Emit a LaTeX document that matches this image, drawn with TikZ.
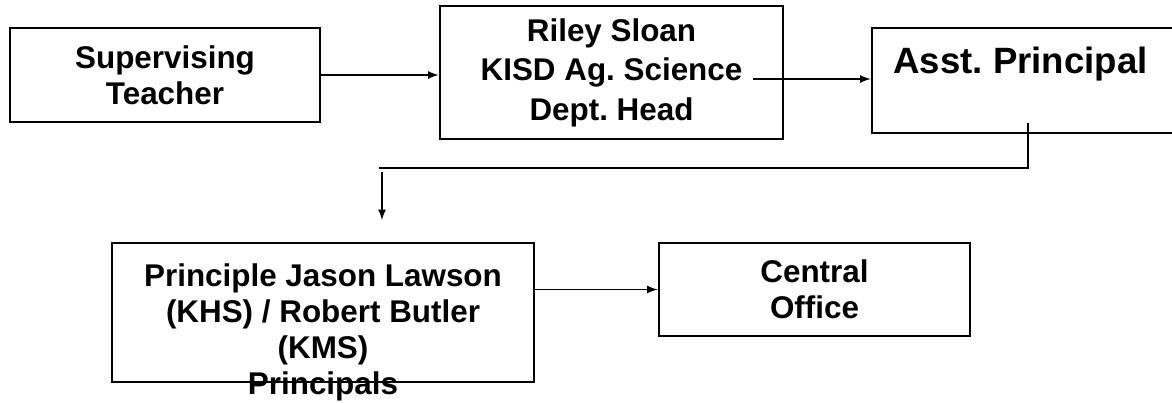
\documentclass[tikz,border=0pt]{standalone}
\usepackage{fontspec}
\setmainfont{Liberation Sans}
\frenchspacing
\tikzset{>=latex}
\tikzset{
  box/.style={draw, line width=1.4pt, align=center, font=\bfseries\fontsize{15.7}{18}\selectfont},
  link/.style={->, line width=0.8pt},
}

\begin{document}
\begin{tikzpicture}[x=0.5pt,y=-0.5pt]
  \useasboundingbox (0,0) rectangle (1172,402);
  \clip (0,0) rectangle (1172,402);
  % top row
  \node[box, minimum width=155pt, minimum height=47pt] (sup) at (165,75) {Supervising\\Teacher};
  \node[box, minimum width=171.5pt, minimum height=66.5pt,
        font=\bfseries\fontsize{15.7}{19.75}\selectfont] (riley) at (611.5,72.5)
        {Riley Sloan\\KISD Ag. Science\\Dept. Head};
  \node[box, minimum width=154pt, minimum height=52.5pt] (asst) at (1026,80.5) {};
  \node[font=\bfseries\fontsize{18.3}{22}\selectfont, anchor=base west, inner sep=0pt]
        (asstname) at (893,73) {Asst. Principal};
  \coordinate (rs) at (753,79);
  \draw[link] (sup.east) -- (sup.east -| riley.west);
  \draw[link] (rs) -- (rs -| asst.west);
  % down to the principals
  \coordinate (turn) at (1028,123);
  \coordinate (corner) at (379,168);
  \coordinate (drop) at (382,172);
  \coordinate (droptip) at (382,220);
  \draw[line width=1.3pt] (turn) |- (corner);
  \draw[link] (drop) -- (droptip);
  % bottom row
  \node[box, minimum width=211pt, minimum height=69.5pt] (prin) at (323,312.5) {};
  \node[font=\bfseries\fontsize{15.7}{18}\selectfont, align=center, anchor=north, inner sep=0pt]
        (printext) at (323,263) {Principle Jason Lawson\\(KHS) / Robert Butler\\(KMS)\\Principals};
  \node[box, minimum width=155.5pt, minimum height=46.5pt] (office) at (814.5,289.5) {Central\\Office};
  \draw[link] (prin.east |- office.west) -- (office.west);
\end{tikzpicture}
\end{document}
